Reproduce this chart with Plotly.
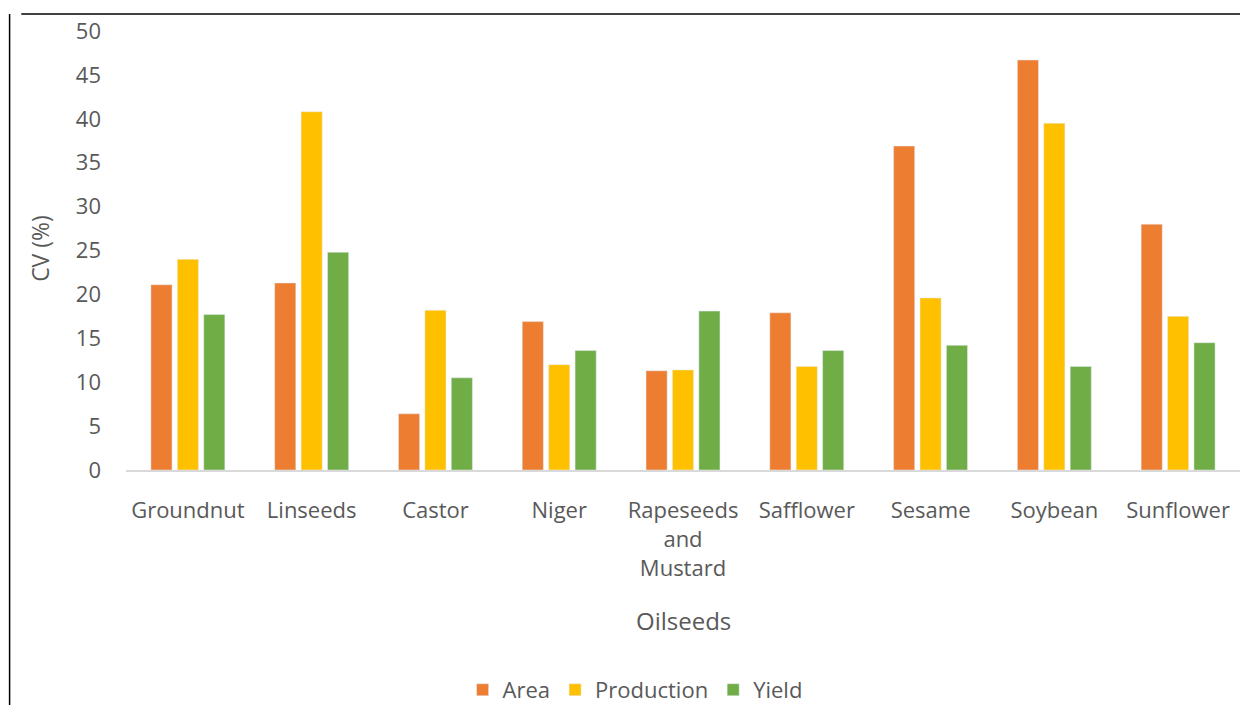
import plotly.graph_objects as go

categories = ["Groundnut", "Linseeds", "Castor", "Niger", "Rapeseeds<br>and<br>Mustard",
              "Safflower", "Sesame", "Soybean", "Sunflower"]
area = [21.1, 21.3, 6.4, 16.9, 11.3, 17.9, 36.9, 46.7, 28.0]
production = [24.0, 40.8, 18.2, 12.0, 11.4, 11.8, 19.6, 39.5, 17.5]
yield_ = [17.7, 24.8, 10.5, 13.6, 18.1, 13.6, 14.2, 11.8, 14.5]

font_family = "Open Sans, sans-serif"
grey = "#595959"

fig = go.Figure()
fig.add_bar(x=categories, y=area, name="Area", marker_color="#ED7D31")
fig.add_bar(x=categories, y=production, name="Production", marker_color="#FFC000")
fig.add_bar(x=categories, y=yield_, name="Yield", marker_color="#70AD47")

fig.update_layout(
    width=1240, height=705,
    paper_bgcolor="white", plot_bgcolor="white",
    margin=dict(l=126, r=0, t=31, b=235, autoexpand=False),
    barmode="group", bargap=0.36, bargroupgap=0.2,
    font=dict(family=font_family, size=22, color=grey),
    showlegend=True,
    legend=dict(orientation="h", x=0.457, xanchor="center", y=-0.501, yanchor="middle",
                font=dict(size=22, color=grey), traceorder="normal", itemwidth=30,
                tracegroupgap=0),
    xaxis=dict(showline=True, linecolor="#D9D9D9", linewidth=2, ticks="", automargin=False,
               tickfont=dict(size=22, color=grey), ticklabelstandoff=20),
    yaxis=dict(range=[0, 50], dtick=5, showgrid=False, zeroline=False, showline=False,
               automargin=False,
               tickfont=dict(size=22, color=grey), ticklabelstandoff=24),
    annotations=[
        dict(text="Oilseeds", xref="paper", yref="paper", x=0.5, y=-0.3417,
             xanchor="center", yanchor="middle", showarrow=False,
             font=dict(size=24, color=grey)),
        dict(text="CV (%)", xref="paper", yref="paper", x=-0.0772, y=0.506,
             xanchor="center", yanchor="middle", showarrow=False, textangle=-90,
             font=dict(size=23, color=grey)),
    ],
    shapes=[
        dict(type="line", xref="paper", yref="paper", x0=-0.094, x1=1.0, y0=1.039, y1=1.039,
             line=dict(color="black", width=1.5)),
        dict(type="line", xref="paper", yref="paper", x0=-0.1045, x1=-0.1045, y0=1.039, y1=-0.55,
             line=dict(color="black", width=1.5)),
    ],
)

fig.write_html("out.html")
